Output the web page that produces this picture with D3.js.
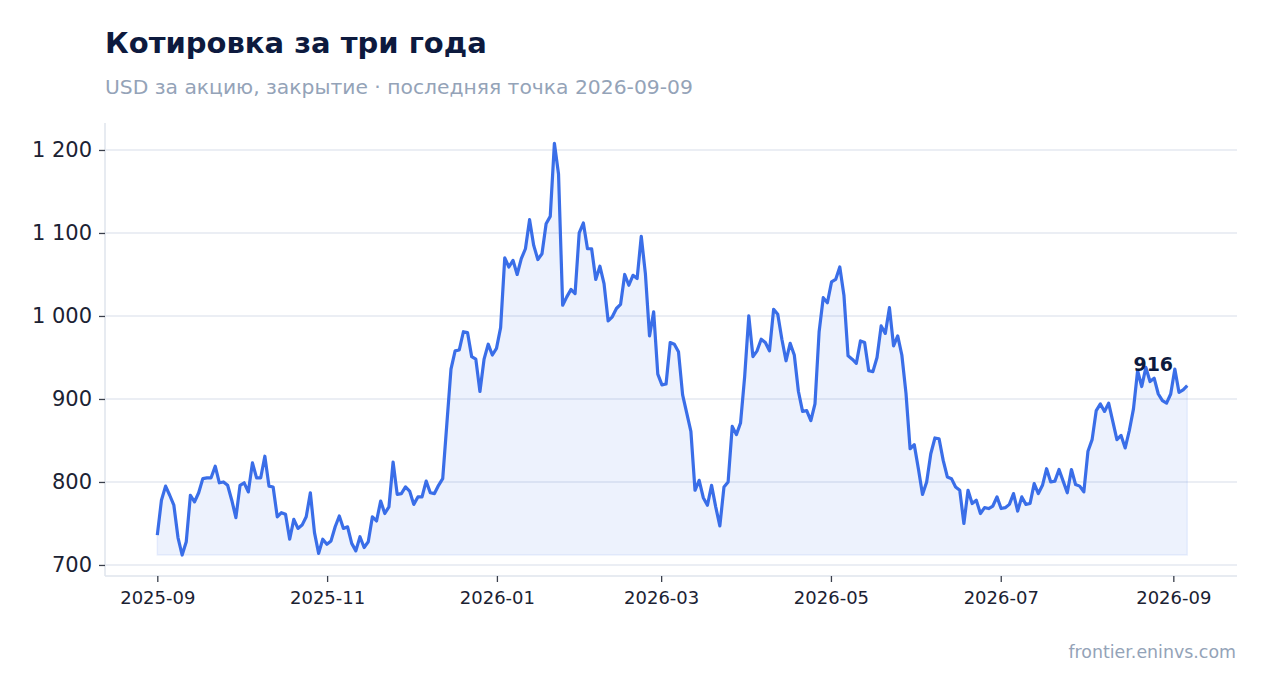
<!DOCTYPE html>
<html>
<head>
	<meta charset="utf-8">
	<title>Котировка за три года</title>
	<script src="https://cdn.jsdelivr.net/npm/d3@7"></script>
	<style>
		body {
			margin: 0;
			background: #fff;
			font-family: "DejaVu Sans", sans-serif;
		}
		.grid line {
			stroke: #e4e8f0;
			stroke-width: 1.5;
		}
		.axis path {
			stroke: #dfe4ec;
			stroke-width: 1.5;
		}
		.axis line {
			stroke: #3a3f4b;
			stroke-width: 1.3;
		}
		.axis text {
			fill: #1b2233;
			font-family: "DejaVu Sans", sans-serif;
		}
	</style>
</head>
<body>
	<svg width="1267" height="693"></svg>

	<script>
		// closing prices, first point 2025-09-01, roughly every 1.5 days
		var firstDate = "2025-09-01",
			lastDate = "2026-09-06";

		var prices = [
			736, 778, 795, 784, 772, 733, 712, 728, 784, 776, 787, 804, 805, 805, 819, 799, 800, 796, 778, 757,
			796, 799, 788, 823, 805, 805, 831, 795, 794, 758, 763, 761, 731, 755, 744, 748, 758, 787, 739, 714,
			731, 725, 729, 746, 759, 744, 746, 726, 717, 734, 721, 728, 758, 753, 777, 762, 770, 824, 785, 786,
			794, 789, 773, 782, 782, 801, 787, 786, 796, 804, 870, 936, 958, 959, 981, 980, 951, 948, 909, 948,
			966, 953, 961, 986, 1070, 1059, 1067, 1050, 1069, 1081, 1116, 1085, 1068, 1075, 1111, 1120, 1208, 1171, 1013, 1023,
			1032, 1027, 1100, 1112, 1081, 1081, 1044, 1060, 1039, 994, 999, 1009, 1014, 1050, 1037, 1049, 1045, 1096, 1051, 976,
			1005, 930, 917, 918, 968, 966, 957, 905, 883, 861, 790, 802, 781, 772, 796, 770, 747, 794, 800, 867,
			857, 871, 927, 1000, 951, 958, 972, 968, 958, 1008, 1002, 972, 946, 967, 953, 909, 885, 886, 874, 894,
			981, 1022, 1016, 1041, 1044, 1059, 1025, 952, 948, 943, 970, 968, 934, 933, 950, 988, 979, 1010, 964, 976,
			953, 907, 840, 845, 816, 785, 800, 834, 853, 852, 826, 806, 804, 794, 790, 750, 790, 774, 778, 762,
			769, 768, 771, 782, 768, 769, 773, 786, 765, 782, 773, 774, 798, 786, 796, 816, 800, 801, 815, 801,
			787, 815, 797, 795, 788, 837, 851, 886, 894, 885, 895, 873, 851, 856, 841, 862, 888, 934, 915, 938,
			921, 925, 906, 898, 895, 906, 936, 908, 911, 916
		];

		var yTicks = [700, 800, 900, 1000, 1100, 1200];

		var title = "Котировка за три года",
			subtitle = "USD за акцию, закрытие · последняя точка 2026-09-09",
			source = "frontier.eninvs.com";

		var svg = d3.select("svg"),
			margin = { top: 123, right: 30, bottom: 117, left: 105 },
			width = +svg.attr("width") - margin.left - margin.right,
			height = +svg.attr("height") - margin.top - margin.bottom;

		var t0 = new Date(firstDate + "T00:00:00Z"),
			t1 = new Date(lastDate + "T00:00:00Z");

		var data = prices.map(function(v, i) {
			return {
				date: new Date(+t0 + (t1 - t0) * i / (prices.length - 1)),
				value: v
			};
		});

		var x = d3.scaleUtc()
			.domain([new Date("2025-08-13T05:00:00Z"), new Date("2026-09-23T21:00:00Z")])
			.range([0, width]);

		var y = d3.scaleLinear()
			.domain([686.7, 1232.5])
			.range([height, 0]);

		var fmt = function(v) {
			return d3.format(",")(v).replace(",", " ");
		};

		// titles
		svg.append("text")
			.attr("x", 105)
			.attr("y", 53)
			.style("font-family", "DejaVu Sans")
			.style("font-weight", "bold")
			.style("font-size", "29px")
			.style("fill", "#0d1a3e")
			.text(title);

		svg.append("text")
			.attr("x", 105)
			.attr("y", 94)
			.style("font-family", "DejaVu Sans")
			.style("font-size", "20.3px")
			.style("fill", "#94a3b8")
			.text(subtitle);

		svg.append("text")
			.attr("x", 1236)
			.attr("y", 658)
			.attr("text-anchor", "end")
			.style("font-family", "DejaVu Sans")
			.style("font-size", "17.4px")
			.style("fill", "#94a3b8")
			.text(source);

		var g = svg.append("g")
			.attr("transform", "translate(" + margin.left + "," + margin.top + ")");

		// horizontal grid
		g.append("g")
			.attr("class", "grid")
			.selectAll("line")
			.data(yTicks)
			.enter().append("line")
			.attr("x1", 0)
			.attr("x2", width)
			.attr("y1", function(d) { return y(d); })
			.attr("y2", function(d) { return y(d); });

		// shaded area down to the lowest close
		var base = d3.min(prices);
		var area = d3.area()
			.x(function(d) { return x(d.date); })
			.y0(y(base))
			.y1(function(d) { return y(d.value); });

		g.append("path")
			.datum(data)
			.attr("d", area)
			.style("fill", "rgba(59,110,232,0.09)")
			.style("stroke", "rgba(59,110,232,0.09)")
			.style("stroke-width", 1.5);

		var line = d3.line()
			.x(function(d) { return x(d.date); })
			.y(function(d) { return y(d.value); });

		g.append("path")
			.datum(data)
			.attr("d", line)
			.style("fill", "none")
			.style("stroke", "#3a6ee8")
			.style("stroke-width", 3.2)
			.style("stroke-linejoin", "round");

		// axes
		var yAxis = g.append("g")
			.attr("class", "axis")
			.call(d3.axisLeft(y).tickValues(yTicks).tickFormat(fmt).tickSize(6).tickPadding(7).tickSizeOuter(0));
		yAxis.selectAll("text").style("font-size", "21px");

		var xAxis = g.append("g")
			.attr("class", "axis")
			.attr("transform", "translate(0," + height + ")")
			.call(d3.axisBottom(x).ticks(d3.utcMonth.every(2)).tickFormat(d3.utcFormat("%Y-%m")).tickSize(6).tickPadding(9).tickSizeOuter(0));
		xAxis.selectAll("text").style("font-size", "18px");

		// spines drawn over full range
		yAxis.select(".domain").attr("d", "M0,0V" + height);
		xAxis.select(".domain").attr("d", "M0,0H" + width);

		// last value label
		var last = data[data.length - 1];
		g.append("text")
			.attr("x", x(last.date) - 34)
			.attr("y", y(last.value) - 15)
			.attr("text-anchor", "middle")
			.style("font-family", "DejaVu Sans")
			.style("font-weight", "bold")
			.style("font-size", "19px")
			.style("fill", "#0d1a3e")
			.text(fmt(last.value));
	</script>
</body>
</html>
